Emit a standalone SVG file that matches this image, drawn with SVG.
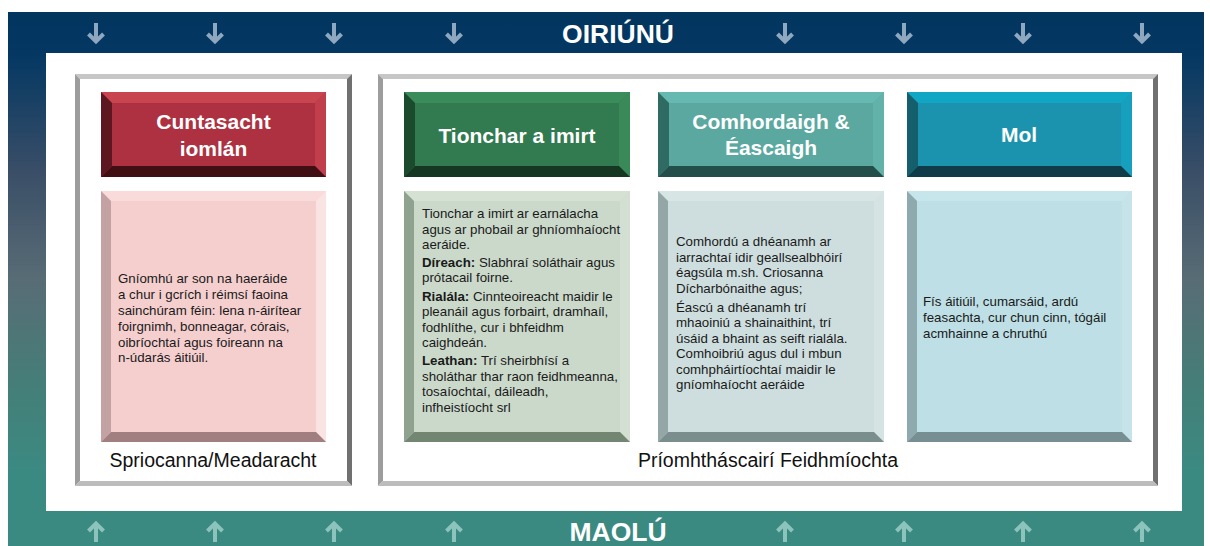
<svg xmlns="http://www.w3.org/2000/svg" width="1210" height="546" viewBox="0 0 1210 546">
<style>
.hdr{font-family:"Liberation Sans",Arial,sans-serif;font-weight:bold;font-size:21px;fill:#ffffff;text-anchor:middle}
.band{font-family:"Liberation Sans",Arial,sans-serif;font-weight:bold;font-size:26.5px;fill:#ffffff;text-anchor:middle}
.body{font-family:"Liberation Sans",Arial,sans-serif;font-size:13.3px;fill:#1a1a1a}
.lbl{font-family:"Liberation Sans",Arial,sans-serif;font-size:19.5px;fill:#111111;text-anchor:middle}
.b{font-weight:bold}
.arD{fill:none;stroke:#8fa8bf;stroke-width:4}
.arU{fill:none;stroke:#8cc3bc;stroke-width:4}
</style>
<defs>
<linearGradient id="bg" gradientUnits="userSpaceOnUse" x1="0" y1="12" x2="0" y2="546">
<stop offset="0" stop-color="#02365f"/>
<stop offset="0.08" stop-color="#043863"/>
<stop offset="0.3" stop-color="#3a4e67"/>
<stop offset="0.5" stop-color="#586c75"/>
<stop offset="0.72" stop-color="#438079"/>
<stop offset="0.86" stop-color="#3b8a82"/>
<stop offset="1" stop-color="#3b8a82"/>
</linearGradient>
<path id="dn" d="M0,23 V42 M-7.5,34 L0,41.5 L7.5,34"/>
<path id="up" d="M0,542 V523 M-7.5,531 L0,523.5 L7.5,531"/>
</defs>

<g id="background">
<rect x="8" y="12" width="1196" height="534" fill="url(#bg)"/>
<rect x="46" y="53" width="1136" height="458" fill="#ffffff"/>
<text class="band" x="618" y="43">OIRIÚNÚ</text>
<text class="band" x="618" y="541">MAOLÚ</text>
</g>

<g id="arrows">
<use href="#dn" class="arD" x="96"/>
<use href="#dn" class="arD" x="215"/>
<use href="#dn" class="arD" x="334"/>
<use href="#dn" class="arD" x="454"/>
<use href="#dn" class="arD" x="785"/>
<use href="#dn" class="arD" x="904"/>
<use href="#dn" class="arD" x="1023"/>
<use href="#dn" class="arD" x="1142"/>
<use href="#up" class="arU" x="96"/>
<use href="#up" class="arU" x="215"/>
<use href="#up" class="arU" x="334"/>
<use href="#up" class="arU" x="454"/>
<use href="#up" class="arU" x="785"/>
<use href="#up" class="arU" x="904"/>
<use href="#up" class="arU" x="1023"/>
<use href="#up" class="arU" x="1142"/>
</g>

<g id="frame-left">
<rect x="75" y="74" width="277" height="412" fill="#ffffff"/>
<polygon points="75,74 352,74 347,79 80,79" fill="#c6c6c6"/>
<polygon points="75,74 80,79 80,481 75,486" fill="#9d9d9d"/>
<polygon points="352,74 352,486 347,481 347,79" fill="#707070"/>
<polygon points="75,486 80,481 347,481 352,486" fill="#bcbcbc"/>
<text class="lbl" x="213" y="467">Spriocanna/Meadaracht</text>
</g>

<g id="frame-right">
<rect x="378" y="74" width="780" height="412" fill="#ffffff"/>
<polygon points="378,74 1158,74 1153,79 383,79" fill="#c6c6c6"/>
<polygon points="378,74 383,79 383,481 378,486" fill="#9d9d9d"/>
<polygon points="1158,74 1158,486 1153,481 1153,79" fill="#707070"/>
<polygon points="378,486 383,481 1153,481 1158,486" fill="#bcbcbc"/>
<text class="lbl" x="768" y="467">Príomhtháscairí Feidhmíochta</text>
</g>

<g id="hdr-cuntasacht">
<rect x="101" y="92" width="225" height="85" fill="#ad3140"/>
<polygon points="101,92 326,92 315,103 112,103" fill="#c8444f"/>
<polygon points="101,92 112,103 112,166 101,177" fill="#5c1720"/>
<polygon points="326,92 326,177 315,166 315,103" fill="#c13f4c"/>
<polygon points="101,177 112,166 315,166 326,177" fill="#3f0f13"/>
<text class="hdr" x="213.5" y="129">Cuntasacht</text>
<text class="hdr" x="213.5" y="156">iomlán</text>
</g>

<g id="hdr-tionchar">
<rect x="404" y="92" width="226" height="85" fill="#327a4f"/>
<polygon points="404,92 630,92 619,103 415,103" fill="#3b8c5b"/>
<polygon points="404,92 415,103 415,166 404,177" fill="#1b4a2d"/>
<polygon points="630,92 630,177 619,166 619,103" fill="#3a8958"/>
<polygon points="404,177 415,166 619,166 630,177" fill="#163823"/>
<text class="hdr" x="517" y="143">Tionchar a imirt</text>
</g>

<g id="hdr-comhordaigh">
<rect x="658" y="92" width="226" height="85" fill="#5aa89f"/>
<polygon points="658,92 884,92 873,103 669,103" fill="#65b9b0"/>
<polygon points="658,92 669,103 669,166 658,177" fill="#2f6a63"/>
<polygon points="884,92 884,177 873,166 873,103" fill="#62b2a9"/>
<polygon points="658,177 669,166 873,166 884,177" fill="#234e49"/>
<text class="hdr" x="771" y="129">Comhordaigh &amp;</text>
<text class="hdr" x="771" y="155">Éascaigh</text>
</g>

<g id="hdr-mol">
<rect x="907" y="92" width="225" height="85" fill="#1c93ae"/>
<polygon points="907,92 1132,92 1121,103 918,103" fill="#12a6c5"/>
<polygon points="907,92 918,103 918,166 907,177" fill="#155e6c"/>
<polygon points="1132,92 1132,177 1121,166 1121,103" fill="#17a0bd"/>
<polygon points="907,177 918,166 1121,166 1132,177" fill="#0f3c48"/>
<text class="hdr" x="1019" y="142">Mol</text>
</g>

<g id="body-cuntasacht">
<rect x="101" y="191" width="225" height="251" fill="#f5cfce"/>
<polygon points="101,191 326,191 316,201 111,201" fill="#f8dbda"/>
<polygon points="101,191 111,201 111,432 101,442" fill="#c4a1a2"/>
<polygon points="326,191 326,442 316,432 316,201" fill="#fae3e3"/>
<polygon points="101,442 111,432 316,432 326,442" fill="#a17f80"/>
<text class="body" x="118" y="283">Gníomhú ar son na haeráide</text>
<text class="body" x="118" y="299">a chur i gcrích i réimsí faoina</text>
<text class="body" x="118" y="315">sainchúram féin: lena n-áirítear</text>
<text class="body" x="118" y="331">foirgnimh, bonneagar, córais,</text>
<text class="body" x="118" y="346.5">oibríochtaí agus foireann na</text>
<text class="body" x="118" y="362">n-údarás áitiúil.</text>
</g>

<g id="body-tionchar">
<rect x="404" y="191" width="226" height="251" fill="#cbd9ca"/>
<polygon points="404,191 630,191 620,201 414,201" fill="#d5e1d3"/>
<polygon points="404,191 414,201 414,432 404,442" fill="#8fa28f"/>
<polygon points="630,191 630,442 620,432 620,201" fill="#d4dfd3"/>
<polygon points="404,442 414,432 620,432 630,442" fill="#738672"/>
<text class="body" x="422" y="218">Tionchar a imirt ar earnálacha</text>
<text class="body" x="422" y="234">agus ar phobail ar ghníomhaíocht</text>
<text class="body" x="422" y="249">aeráide.</text>
<text class="body" x="422" y="267"><tspan class="b">Díreach:</tspan> Slabhraí soláthair agus</text>
<text class="body" x="422" y="282">prótacail foirne.</text>
<text class="body" x="422" y="301"><tspan class="b">Rialála:</tspan> Cinnteoireacht maidir le</text>
<text class="body" x="422" y="316">pleanáil agus forbairt, dramhaíl,</text>
<text class="body" x="422" y="332">fodhlíthe, cur i bhfeidhm</text>
<text class="body" x="422" y="347">caighdeán.</text>
<text class="body" x="422" y="365"><tspan class="b">Leathan:</tspan> Trí sheirbhísí a</text>
<text class="body" x="422" y="381">sholáthar thar raon feidhmeanna,</text>
<text class="body" x="422" y="396">tosaíochtaí, dáileadh,</text>
<text class="body" x="422" y="412">infheistíocht srl</text>
</g>

<g id="body-comhordaigh">
<rect x="658" y="191" width="226" height="251" fill="#cedede"/>
<polygon points="658,191 884,191 874,201 668,201" fill="#d8e5e5"/>
<polygon points="658,191 668,201 668,432 658,442" fill="#94a6a6"/>
<polygon points="884,191 884,442 874,432 874,201" fill="#d6e3e3"/>
<polygon points="658,442 668,432 874,432 884,442" fill="#7a8e8e"/>
<text class="body" x="676" y="246">Comhordú a dhéanamh ar</text>
<text class="body" x="676" y="262">iarrachtaí idir geallsealbhóirí</text>
<text class="body" x="676" y="277">éagsúla m.sh. Criosanna</text>
<text class="body" x="676" y="293">Dícharbónaithe agus;</text>
<text class="body" x="676" y="312">Éascú a dhéanamh trí</text>
<text class="body" x="676" y="327">mhaoiniú a shainaithint, trí</text>
<text class="body" x="676" y="343">úsáid a bhaint as seift rialála.</text>
<text class="body" x="676" y="358">Comhoibriú agus dul i mbun</text>
<text class="body" x="676" y="374">comhpháirtíochtaí maidir le</text>
<text class="body" x="676" y="389">gníomhaíocht aeráide</text>
</g>

<g id="body-mol">
<rect x="907" y="191" width="225" height="251" fill="#bedfe5"/>
<polygon points="907,191 1132,191 1122,201 917,201" fill="#c7e6eb"/>
<polygon points="907,191 917,201 917,432 907,442" fill="#8eaaaf"/>
<polygon points="1132,191 1132,442 1122,432 1122,201" fill="#c5e3e9"/>
<polygon points="907,442 917,432 1122,432 1132,442" fill="#778f93"/>
<text class="body" x="923" y="306">Fís áitiúil, cumarsáid, ardú</text>
<text class="body" x="923" y="322">feasachta, cur chun cinn, tógáil</text>
<text class="body" x="923" y="338">acmhainne a chruthú</text>
</g>
</svg>
